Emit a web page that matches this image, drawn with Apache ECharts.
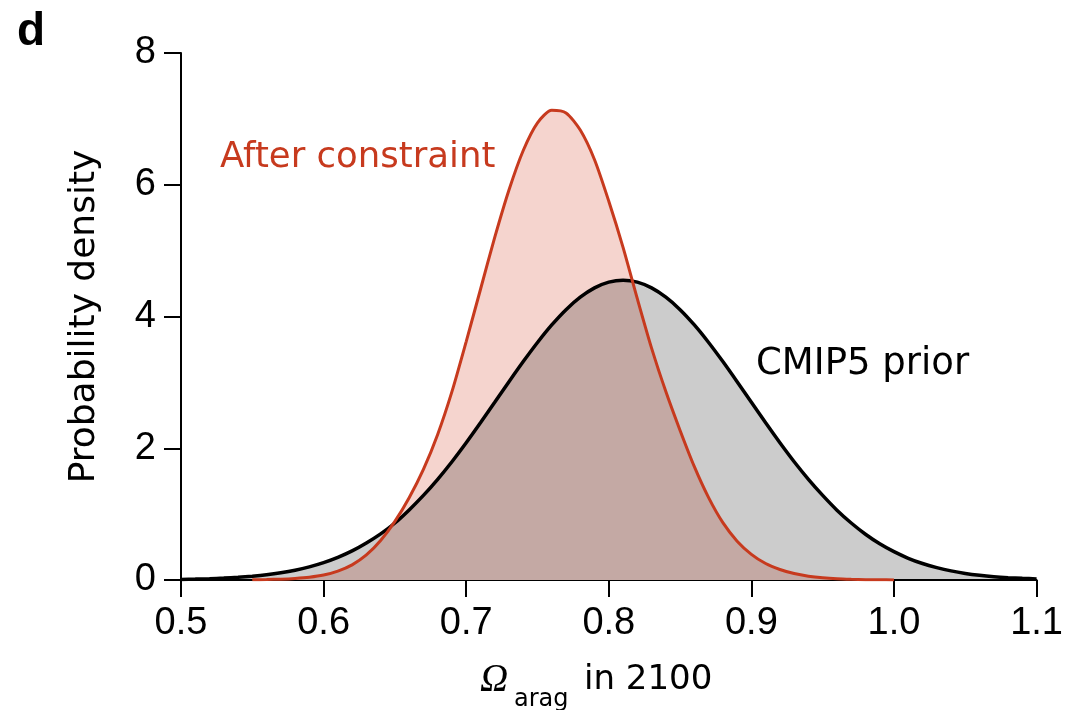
<!DOCTYPE html>
<html>
<head>
<meta charset="utf-8">
<script src="https://cdn.jsdelivr.net/npm/echarts@6/dist/echarts.min.js"></script>
<style>
html,body{margin:0;padding:0;background:#fff;}
#chart{width:1066px;height:710px;}
</style>
</head>
<body>
<div id="chart"></div>
<script>
// Omega_arag values (x) for the CMIP5 prior density
const xPrior = [0.50,0.51,0.52,0.53,0.54,0.55,0.56,0.57,0.58,0.59,
  0.60,0.61,0.62,0.63,0.64,0.65,0.66,0.67,0.68,0.69,
  0.70,0.71,0.72,0.73,0.74,0.75,0.76,0.77,0.78,0.79,
  0.80,0.81,0.82,0.83,0.84,0.85,0.86,0.87,0.88,0.89,
  0.90,0.91,0.92,0.93,0.94,0.95,0.96,0.97,0.98,0.99,
  1.00,1.01,1.02,1.03,1.04,1.05,1.06,1.07,1.08,1.09,1.10];
const priorDensity = [0.009,0.014,0.020,0.029,0.041,0.058,0.080,0.110,0.149,0.200,
  0.264,0.344,0.442,0.562,0.70,0.865,1.064,1.284,1.528,1.795,
  2.083,2.386,2.697,3.010,3.316,3.606,3.872,4.104,4.293,4.434,
  4.521,4.550,4.521,4.434,4.293,4.104,3.872,3.606,3.316,3.010,
  2.697,2.386,2.083,1.795,1.528,1.284,1.06,0.865,0.695,0.55,
  0.43,0.33,0.25,0.188,0.138,0.100,0.072,0.051,0.036,0.025,0.017];

// Omega_arag values (x) for the constrained density
const xConstrained = [0.55,0.56,0.57,0.58,0.59,
  0.60,0.61,0.62,0.63,0.64,0.65,0.66,0.67,0.68,0.69,
  0.70,0.71,0.72,0.73,0.74,0.75,0.76,0.77,0.78,0.79,
  0.80,0.81,0.82,0.83,0.84,0.85,0.86,0.87,0.88,0.89,
  0.90,0.91,0.92,0.93,0.94,0.95,0.96,0.97,0.98,0.99,1.00];
const constrainedDensity = [0.003,0.007,0.013,0.024,0.042,
  0.075,0.135,0.23,0.38,0.60,0.89,1.25,1.68,2.21,2.86,
  3.62,4.41,5.20,5.92,6.52,6.94,7.13,7.09,6.83,6.38,
  5.75,5.05,4.27,3.52,2.86,2.27,1.72,1.25,0.87,0.59,
  0.39,0.25,0.16,0.098,0.058,0.033,0.018,0.010,0.005,0.003,0.001];

const xTicks = [0.5,0.6,0.7,0.8,0.9,1.0,1.1];
const yTicks = [0,2,4,6,8];

const RED = '#c73a1e';
const SANS = '"Liberation Sans", Arial, Helvetica, sans-serif';
const SMOOTH = 0.25;
const priorPts = xPrior.map((x,i)=>[x, priorDensity[i]]);
const conPts = xConstrained.map((x,i)=>[x, constrainedDensity[i]]);

const chart = echarts.init(document.getElementById('chart'), null, {renderer:'canvas'});
const option = {
  animation: false,
  backgroundColor: '#ffffff',
  grid: {left: 181, right: 24, top: 53, bottom: 130, containLabel: false},
  xAxis: {
    type: 'value', min: xTicks[0], max: xTicks[xTicks.length-1], interval: 0.1,
    axisLine: {show: true, onZero: false, lineStyle: {color: '#000', width: 2}},
    axisTick: {show: true, length: 17, lineStyle: {color: '#000', width: 2}},
    axisLabel: {color: '#000', fontSize: 38, fontFamily: SANS, margin: 25,
      formatter: v => v.toFixed(1)},
    splitLine: {show: false}
  },
  yAxis: {
    type: 'value', min: yTicks[0], max: yTicks[yTicks.length-1], interval: 2,
    name: 'Probability density', nameLocation: 'middle', nameGap: 78,
    nameTextStyle: {color: '#000', fontSize: 36, fontFamily: 'DejaVu Sans'},
    axisLine: {show: true, lineStyle: {color: '#000', width: 2}},
    axisTick: {show: true, length: 17, lineStyle: {color: '#000', width: 2}},
    axisLabel: {color: '#000', fontSize: 38, fontFamily: SANS, margin: 25},
    splitLine: {show: false}
  },
  series: [
    {name: 'After constraint (fill)', type: 'line', data: conPts, smooth: SMOOTH,
      showSymbol: false, lineStyle: {width: 0, opacity: 0}, areaStyle: {color: '#f5d4ce', opacity: 1}, z: 1},
    {name: 'CMIP5 prior (fill)', type: 'line', data: priorPts, smooth: SMOOTH,
      showSymbol: false, lineStyle: {width: 0, opacity: 0}, areaStyle: {color: 'rgba(0,0,0,0.2)', opacity: 1}, z: 2},
    {name: 'CMIP5 prior', type: 'line', data: priorPts, smooth: SMOOTH,
      showSymbol: false, lineStyle: {width: 3.5, color: '#000'}, z: 3},
    {name: 'After constraint', type: 'line', data: conPts, smooth: SMOOTH,
      showSymbol: false, lineStyle: {width: 3, color: RED}, z: 4}
  ],
  graphic: [
    {type: 'text', left: 17, top: 9, style: {text: 'd', fill: '#000', font: 'bold 46px "Liberation Sans", Arial, sans-serif'}},
    {type: 'text', x: 220, y: 158, style: {text: 'After constraint', fill: RED, font: '35.5px "DejaVu Sans"', verticalAlign: 'middle', align: 'left'}},
    {type: 'text', x: 756, y: 364, style: {text: 'CMIP5 prior', fill: '#000', font: '37px "DejaVu Sans"', verticalAlign: 'middle', align: 'left'}},
    {type: 'text', x: 480, y: 681, style: {text: 'Ω', fill: '#000', font: 'italic 39px "Liberation Serif"', verticalAlign: 'middle', align: 'left'}},
    {type: 'text', x: 514, y: 700, style: {text: 'arag', fill: '#000', font: '24px "DejaVu Sans"', verticalAlign: 'middle', align: 'left'}},
    {type: 'text', x: 584, y: 680, style: {text: 'in 2100', fill: '#000', font: '34px "DejaVu Sans"', verticalAlign: 'middle', align: 'left'}}
  ]
};
chart.setOption(option);
</script>
</body>
</html>
